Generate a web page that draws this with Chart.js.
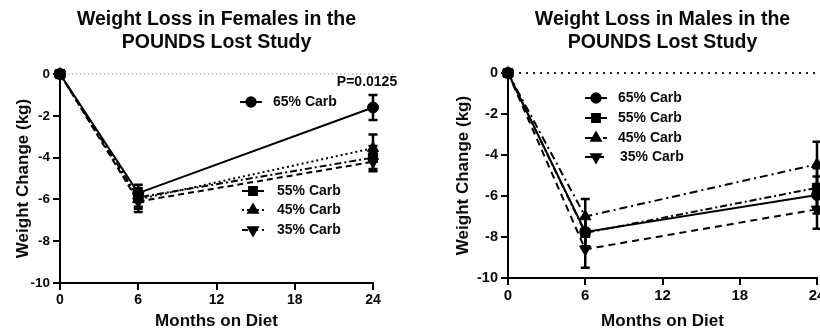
<!DOCTYPE html>
<html>
<head>
<meta charset="utf-8">
<script src="https://cdn.jsdelivr.net/npm/chart.js@4/dist/chart.umd.min.js"></script>
<style>
  html, body { margin: 0; padding: 0; background: #fff; width: 820px; height: 335px; overflow: hidden; }
  .panel { position: absolute; top: 0; width: 410px; height: 335px; }
  #leftPanel { left: 0; }
  #rightPanel { left: 410px; }
</style>
</head>
<body>
<div class="panel" id="leftPanel"><canvas id="femaleChart" width="410" height="335"></canvas></div>
<div class="panel" id="rightPanel"><canvas id="maleChart" width="410" height="335"></canvas></div>
<script>
// Months on diet (x values) and axis ticks
const months = [0, 6, 24];
const monthTicks = [0, 6, 12, 18, 24];
const weightTicks = [-10, -8, -6, -4, -2, 0];
const groupLabels = ['65% Carb', '55% Carb', '45% Carb', '35% Carb'];

// Females: mean weight change (kg) and standard error
const female65 = [0, -5.7, -1.6];
const female55 = [0, -5.9, -4.0];
const female45 = [0, -6.0, -3.55];
const female35 = [0, -6.1, -4.2];
const female65Err = [0, 0.4, 0.6];
const female55Err = [0, 0.45, 0.55];
const female45Err = [0, 0.45, 0.65];
const female35Err = [0, 0.5, 0.45];

// Males: mean weight change (kg) and standard error
const male65 = [0, -7.75, -5.95];
const male55 = [0, -7.8, -5.6];
const male45 = [0, -7.0, -4.45];
const male35 = [0, -8.6, -6.65];
const male65Err = [0, 0.7, 0.9];
const male55Err = [0, 0.75, 0.95];
const male45Err = [0, 0.85, 1.1];
const male35Err = [0, 0.9, 0.95];

const FONT = "'Liberation Sans', Arial, Helvetica, sans-serif";
const INK = '#0a0a0a';

// Error bars drawn through the chart's own scales
const errorBars = {
  id: 'errorBars',
  beforeDatasetsDraw(chart) {
    const { ctx, scales: { x, y } } = chart;
    ctx.save();
    ctx.strokeStyle = '#000';
    ctx.lineWidth = 2.5;
    ctx.setLineDash([]);
    chart.data.datasets.forEach(ds => {
      ds.data.forEach((pt, i) => {
        const e = ds.errors[i];
        if (!e) return;
        const px = x.getPixelForValue(pt.x);
        const top = y.getPixelForValue(pt.y + e);
        const bot = y.getPixelForValue(pt.y - e);
        ctx.beginPath();
        ctx.moveTo(px, top); ctx.lineTo(px, bot);
        ctx.moveTo(px - 4.5, top); ctx.lineTo(px + 4.5, top);
        ctx.moveTo(px - 4.5, bot); ctx.lineTo(px + 4.5, bot);
        ctx.stroke();
      });
    });
    ctx.restore();
  }
};

// Dotted reference line at zero change
const zeroLine = {
  id: 'zeroLine',
  beforeDatasetsDraw(chart, args, opts) {
    const { ctx, chartArea, scales: { y } } = chart;
    const py = y.getPixelForValue(0);
    ctx.save();
    ctx.strokeStyle = opts.color;
    ctx.lineWidth = opts.width;
    ctx.setLineDash(opts.dash);
    ctx.beginPath();
    ctx.moveTo(chartArea.left + 4, py);
    ctx.lineTo(opts.end, py);
    ctx.stroke();
    ctx.restore();
  }
};

// Free-placed legend entries built from the datasets' own styles
const seriesLegend = {
  id: 'seriesLegend',
  afterDraw(chart, args, opts) {
    const ctx = chart.ctx;
    chart.data.datasets.forEach((ds, i) => {
      const p = opts.entries[i];
      ctx.save();
      ctx.strokeStyle = ds.borderColor;
      ctx.lineWidth = ds.borderWidth;
      ctx.setLineDash(ds.borderDash || []);
      ctx.beginPath();
      ctx.moveTo(p.x - 11, p.y);
      ctx.lineTo(p.x + 11, p.y);
      ctx.stroke();
      ctx.setLineDash([]);
      ctx.fillStyle = '#000';
      ctx.strokeStyle = '#000';
      Chart.helpers.drawPoint(ctx, {
        pointStyle: ds.pointStyle,
        radius: ds.pointRadius * 0.85,
        rotation: ds.pointRotation || 0,
        borderWidth: 1
      }, p.x, p.y);
      ctx.fillStyle = INK;
      ctx.font = 'bold ' + opts.size + 'px ' + FONT;
      ctx.textBaseline = 'middle';
      ctx.textAlign = 'left';
      ctx.fillText(ds.label, p.tx, p.y);
      ctx.restore();
    });
    if (opts.note) {
      ctx.save();
      ctx.fillStyle = INK;
      ctx.font = 'bold ' + opts.size + 'px ' + FONT;
      ctx.textBaseline = 'middle';
      ctx.textAlign = 'center';
      ctx.fillText(opts.note.text, opts.note.x, opts.note.y);
      ctx.restore();
    }
  }
};

function series(label, means, errs, style) {
  return Object.assign({
    label,
    data: months.map((m, i) => ({ x: m, y: means[i] })),
    errors: errs,
    borderColor: '#000',
    backgroundColor: '#000',
    pointBackgroundColor: '#000',
    pointBorderColor: '#000',
    borderWidth: 2,
    pointBorderWidth: 1,
    clip: false,
    tension: 0
  }, style);
}

const styles = [
  { pointStyle: 'circle', pointRadius: 5.5, borderDash: [], order: 1 },
  { pointStyle: 'rect', pointRadius: 6.5, borderDash: [7, 3, 2, 3], order: 0 },
  { pointStyle: 'triangle', pointRadius: 6.5, borderDash: [2, 3], order: 2 },
  { pointStyle: 'triangle', pointRadius: 6.5, pointRotation: 180, borderDash: [6, 4], order: 3 }
];
const maleStyles = [
  styles[0],
  styles[1],
  { pointStyle: 'triangle', pointRadius: 6.5, borderDash: [8, 4, 2, 4], order: 2 },
  { pointStyle: 'triangle', pointRadius: 6.5, pointRotation: 180, borderDash: [7, 5], order: 3 }
];

function makeOptions(cfg) {
  return {
    responsive: false,
    animation: false,
    devicePixelRatio: 1,
    layout: { autoPadding: false, padding: { left: 0, right: cfg.padRight, top: 0, bottom: 0 } },
    plugins: {
      legend: { display: false },
      tooltip: { enabled: false },
      title: {
        display: true,
        fullSize: false,
        text: cfg.title,
        color: INK,
        font: { family: FONT, size: 19.5, weight: 'bold', lineHeight: 1.18 },
        padding: { top: 8.5, bottom: cfg.titleGap }
      },
      zeroLine: cfg.zero,
      seriesLegend: cfg.legend
    },
    scales: {
      x: {
        type: 'linear',
        min: 0, max: 24,
        afterBuildTicks(s) { s.ticks = monthTicks.map(v => ({ value: v })); },
        ticks: { color: INK, font: { family: FONT, size: cfg.xTickSize, weight: 'bold' }, padding: 2, maxRotation: 0 },
        grid: { drawOnChartArea: false, color: '#000', lineWidth: 2, tickLength: 7, tickWidth: 2 },
        border: { display: true, color: '#000', width: 2 },
        title: {
          display: true, text: 'Months on Diet', color: INK,
          font: { family: FONT, size: 17, weight: 'bold', lineHeight: 1.2 },
          padding: { top: 0, bottom: 3 }
        },
        afterFit(s) { s.height = 335 - cfg.plotBottom; s.paddingLeft = 0; s.paddingRight = 0; }
      },
      y: {
        type: 'linear',
        min: -10, max: 0,
        afterBuildTicks(s) { s.ticks = weightTicks.map(v => ({ value: v })); },
        ticks: { color: INK, font: { family: FONT, size: cfg.yTickSize, weight: 'bold' }, padding: 3 },
        grid: { drawOnChartArea: false, color: '#000', lineWidth: 2, tickLength: 7, tickWidth: 2 },
        border: { display: true, color: '#000', width: 2 },
        title: {
          display: true, text: 'Weight Change (kg)', color: INK,
          font: { family: FONT, size: cfg.yTitleSize, weight: 'bold', lineHeight: 1.2 },
          padding: { top: cfg.yTitlePad, bottom: 0 }
        },
        afterFit(s) { s.width = cfg.axisWidth; s.paddingTop = 0; s.paddingBottom = 0; }
      }
    }
  };
}

new Chart(document.getElementById('femaleChart'), {
  type: 'line',
  data: {
    datasets: [
      series(groupLabels[0], female65, female65Err, styles[0]),
      series(groupLabels[1], female55, female55Err, styles[1]),
      series(groupLabels[2], female45, female45Err, styles[2]),
      series(groupLabels[3], female35, female35Err, styles[3])
    ]
  },
  options: makeOptions({
    title: ['Weight Loss in Females in the', 'POUNDS Lost Study'],
    titleGap: 19.5,
    padRight: 37,
    axisWidth: 60,
    plotBottom: 283,
    xTickSize: 14,
    yTickSize: 13.5,
    yTitleSize: 17,
    yTitlePad: 13,
    zero: { color: '#9a9a9a', width: 1, dash: [1.5, 2.5], end: 394 },
    legend: {
      size: 14,
      entries: [
        { x: 251, y: 102, tx: 273 },
        { x: 253, y: 191, tx: 277 },
        { x: 253, y: 210, tx: 277 },
        { x: 253, y: 230, tx: 277 }
      ],
      note: { text: 'P=0.0125', x: 367, y: 82 }
    }
  }),
  plugins: [zeroLine, errorBars, seriesLegend]
});

new Chart(document.getElementById('maleChart'), {
  type: 'line',
  data: {
    datasets: [
      series(groupLabels[0], male65, male65Err, maleStyles[0]),
      series(groupLabels[1], male55, male55Err, maleStyles[1]),
      series(groupLabels[2], male45, male45Err, maleStyles[2]),
      series(groupLabels[3], male35, male35Err, maleStyles[3])
    ]
  },
  options: makeOptions({
    title: ['Weight Loss in Males in the', 'POUNDS Lost Study'],
    titleGap: 18.5,
    padRight: 3,
    axisWidth: 98,
    plotBottom: 278,
    xTickSize: 15,
    yTickSize: 14.5,
    yTitleSize: 17,
    yTitlePad: 43,
    zero: { color: '#222', width: 2, dash: [2, 5], end: 410 },
    legend: {
      size: 14,
      entries: [
        { x: 186, y: 98, tx: 208 },
        { x: 186, y: 118, tx: 208 },
        { x: 186, y: 138, tx: 208 },
        { x: 186, y: 157, tx: 210 }
      ]
    }
  }),
  plugins: [zeroLine, errorBars, seriesLegend]
});
</script>
</body>
</html>
